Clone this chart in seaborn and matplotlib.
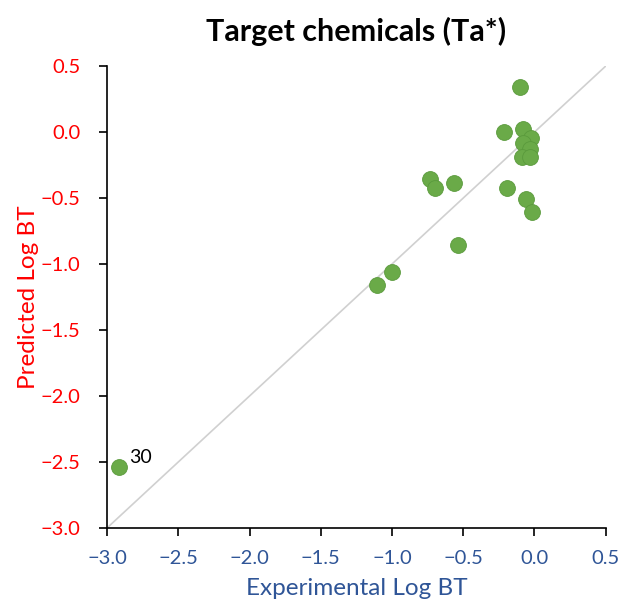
import matplotlib
matplotlib.use("Agg")
import matplotlib.pyplot as plt
import seaborn as sns
import pandas as pd

experimental = [-0.103, -0.215, -0.082, -0.028, -0.080, -0.033, -0.091, -0.033,
                -0.192, -0.057, -0.019, -0.735, -0.695, -0.568, -0.540, -1.001,
                -1.102, -2.914]
predicted = [0.339, 0.002, 0.020, -0.043, -0.081, -0.131, -0.192, -0.192,
             -0.427, -0.510, -0.604, -0.358, -0.427, -0.384, -0.858, -1.058,
             -1.159, -2.540]
ticks = [-3.0, -2.5, -2.0, -1.5, -1.0, -0.5, 0.0, 0.5]
tick_labels = ["−3.0", "−2.5", "−2.0", "−1.5", "−1.0", "−0.5", "0.0", "0.5"]

df = pd.DataFrame({"Experimental": experimental, "Predicted": predicted})

sns.set_style("ticks")
plt.rcParams['font.family'] = ['Lato', 'DejaVu Sans']

fig = plt.figure(figsize=(6.2, 6.06), dpi=100)
ax = fig.add_axes([0.1726, 0.1287, 0.8044, 0.7623])

ax.plot([-3, 0.5], [-3, 0.5], color="#d0d0d0", lw=1.2, zorder=1)
sns.scatterplot(data=df, x="Experimental", y="Predicted", ax=ax,
                color="#6aaa48", s=130, edgecolor="#5a9a3c", linewidth=0.6, zorder=3)

ax.annotate("30", (experimental[-1], predicted[-1]), xytext=(7, 3),
            textcoords="offset points", fontsize=14, color="black")

ax.set_xlim(-3.0, 0.5)
ax.set_ylim(-3.0, 0.5)
ax.set_xticks(ticks)
ax.set_xticklabels(tick_labels)
ax.set_yticks(ticks)
ax.set_yticklabels(tick_labels)
blue = "#2f5597"
red = "#ff0000"
ax.tick_params(axis="x", colors="black", labelcolor=blue, labelsize=14.5, length=6, width=1.2, pad=10)
ax.tick_params(axis="y", colors="black", labelcolor=red, labelsize=14.5, length=6, width=1.2, pad=13)
for s in ["top", "right"]:
    ax.spines[s].set_visible(False)
for s in ["left", "bottom"]:
    ax.spines[s].set_color("black")
    ax.spines[s].set_linewidth(1.2)

ax.set_xlabel("Experimental Log BT", color=blue, fontsize=17.5, labelpad=8)
ax.set_ylabel("Predicted Log BT", color=red, fontsize=17.5, labelpad=1)
ax.set_title("Target chemicals (Ta*)", fontsize=22, fontweight="bold", pad=18, color="black")

fig.savefig("out.png", dpi=100)
